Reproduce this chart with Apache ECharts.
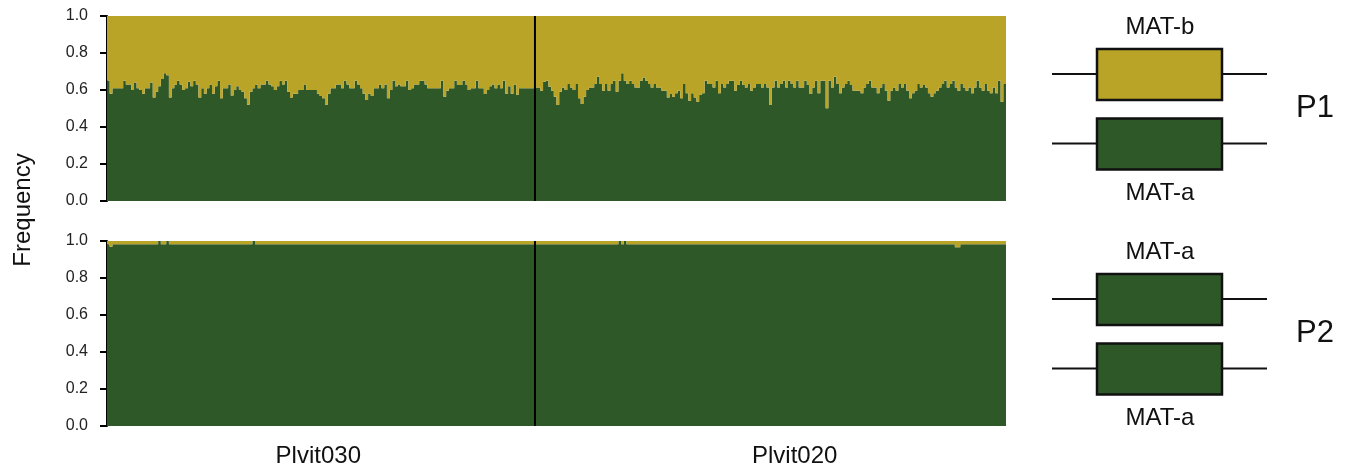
<!DOCTYPE html>
<html>
<head>
<meta charset="utf-8">
<script src="https://cdn.jsdelivr.net/npm/echarts@6/dist/echarts.min.js"></script>
<style>
  html, body { margin: 0; padding: 0; background: #fff; }
  #main { width: 1352px; height: 468px; }
</style>
</head>
<body>
<div id="main"></div>
<script>
// population names
let popNames = ['Plvit030', 'Plvit020'];

// P1: frequency of MAT-a (green) per individual
let p1Plvit030 = [
  0.65, 0.58, 0.61, 0.61, 0.61, 0.61, 0.65, 0.63, 0.63, 0.60, 0.64, 0.61, 0.60, 0.58, 0.61, 0.61, 0.64, 0.56, 0.59, 0.62,
  0.66, 0.69, 0.68, 0.56, 0.61, 0.63, 0.65, 0.63, 0.60, 0.61, 0.645, 0.62, 0.65, 0.63, 0.56, 0.61, 0.58, 0.61, 0.63, 0.58,
  0.62, 0.65, 0.555, 0.61, 0.61, 0.63, 0.57, 0.60, 0.62, 0.60, 0.59, 0.555, 0.52, 0.59, 0.61, 0.63, 0.61, 0.63, 0.63, 0.65,
  0.63, 0.62, 0.60, 0.62, 0.65, 0.63, 0.65, 0.59, 0.56, 0.58, 0.58, 0.60, 0.60, 0.63, 0.60, 0.60, 0.60, 0.60,
  0.58, 0.568, 0.555, 0.52, 0.58, 0.61, 0.61, 0.63, 0.63, 0.61, 0.65, 0.63, 0.61, 0.61, 0.65, 0.63, 0.61, 0.58, 0.546, 0.58,
  0.568, 0.61, 0.61, 0.63, 0.61, 0.63, 0.555, 0.60, 0.65, 0.62, 0.63, 0.62, 0.62, 0.65, 0.60, 0.61, 0.63, 0.63, 0.65, 0.65,
  0.63, 0.61, 0.61, 0.61, 0.61, 0.61, 0.65, 0.564, 0.596, 0.61, 0.61, 0.65, 0.627, 0.627, 0.65, 0.627, 0.60, 0.61, 0.61, 0.65,
  0.61, 0.61, 0.578, 0.60, 0.62, 0.63, 0.61, 0.63, 0.61, 0.65, 0.58, 0.62, 0.58, 0.63, 0.575, 0.61, 0.61, 0.61, 0.61, 0.61, 0.61
];
let p1Plvit020 = [
  0.614, 0.614, 0.596, 0.645, 0.65, 0.618, 0.596, 0.564, 0.519, 0.591, 0.614, 0.60, 0.632, 0.614, 0.60, 0.632, 0.555, 0.524, 0.564, 0.60,
  0.614, 0.614, 0.632, 0.672, 0.632, 0.596, 0.632, 0.596, 0.632, 0.65, 0.591, 0.65, 0.69, 0.65, 0.632, 0.65, 0.632, 0.614, 0.614, 0.65,
  0.668, 0.65, 0.632, 0.614, 0.632, 0.614, 0.614, 0.596, 0.596, 0.56, 0.578, 0.564, 0.582, 0.596, 0.555, 0.632, 0.582, 0.542, 0.582, 0.56,
  0.537, 0.573, 0.582, 0.65, 0.632, 0.632, 0.614, 0.65, 0.582, 0.632, 0.614, 0.632, 0.65, 0.65, 0.596, 0.627, 0.65, 0.627, 0.614, 0.632,
  0.596, 0.614, 0.632, 0.632, 0.614, 0.632, 0.614,
  0.519, 0.614, 0.65, 0.614, 0.632, 0.65, 0.614, 0.65, 0.632, 0.614, 0.65, 0.614, 0.614, 0.65, 0.627, 0.578, 0.614, 0.65, 0.582, 0.65,
  0.65, 0.501, 0.65, 0.614, 0.672, 0.632, 0.582, 0.614, 0.632, 0.65, 0.627, 0.596, 0.596, 0.596, 0.582, 0.614, 0.632, 0.65, 0.614, 0.614,
  0.582, 0.614, 0.632, 0.596, 0.542, 0.596, 0.614, 0.596, 0.632, 0.614, 0.632, 0.596, 0.555, 0.582, 0.596, 0.632, 0.614, 0.627, 0.614, 0.582,
  0.564, 0.582, 0.596, 0.614, 0.632, 0.65, 0.614, 0.632, 0.65, 0.614, 0.596, 0.632, 0.614, 0.596, 0.614, 0.582, 0.614, 0.65, 0.614, 0.596,
  0.632, 0.596, 0.582, 0.614, 0.582, 0.65, 0.537, 0.632
];

// P2: frequency of MAT-a (green), as runs of [value, number of individuals]
let p2Plvit030Runs = [[0.982, 1], [0.969, 1], [0.982, 17], [1.0, 1], [0.982, 2], [1.0, 1], [0.982, 31], [1.0, 1], [0.982, 104]];
let p2Plvit020Runs = [[0.982, 31], [1.0, 1], [0.982, 1], [1.0, 1], [0.982, 122], [0.966, 2], [0.982, 17]];

// y tick labels, and where the population names sit on the x axis
let yTicks = ['0.0', '0.2', '0.4', '0.6', '0.8', '1.0'];
let popLabelIdx = [78, 255];

const GREEN = '#2f5829';
const YELLOW = '#b9a428';
const FONT = '"Liberation Sans", Arial, Helvetica, sans-serif';

function expandRuns(runs) {
  let out = [];
  runs.forEach(r => { for (let i = 0; i < r[1]; i++) out.push(r[0]); });
  return out;
}

let p1Green = p1Plvit030.concat(p1Plvit020);
let p2Green = expandRuns(p2Plvit030Runs).concat(expandRuns(p2Plvit020Runs));
let p1Yellow = p1Green.map(v => +(1 - v).toFixed(3));
let p2Yellow = p2Green.map(v => +(1 - v).toFixed(3));
let total = p1Green.length;
let split = p1Plvit030.length;

let categories = [];
p1Plvit030.forEach((v, i) => categories.push(popNames[0] + '_' + (i + 1)));
p1Plvit020.forEach((v, i) => categories.push(popNames[1] + '_' + (i + 1)));

let gridTop = [16, 241];
let plotH = 185;

function catAxis(gi, showLabel) {
  return {
    type: 'category', gridIndex: gi, data: categories, boundaryGap: true,
    axisLine: { show: false }, axisTick: { show: false },
    axisLabel: {
      show: showLabel, interval: (idx) => popLabelIdx.indexOf(idx) >= 0,
      formatter: (v) => v.split('_')[0],
      margin: 18, fontSize: 24, color: '#111', fontFamily: FONT, hideOverlap: false
    }
  };
}
function sepAxis(gi) {
  return { type: 'value', gridIndex: gi, min: 0, max: total, show: false };
}
function freqAxis(gi) {
  return {
    type: 'value', gridIndex: gi, min: 0, max: 1, interval: 0.2, offset: 7,
    axisLine: { show: true, lineStyle: { color: '#000', width: 2 } },
    axisTick: { show: true, length: 7, lineStyle: { color: '#000', width: 2 } },
    axisLabel: {
      margin: 12, fontSize: 16, color: '#222', fontFamily: FONT,
      formatter: (v) => yTicks[Math.round(v / 0.2)]
    },
    splitLine: { show: false }
  };
}

// large mode fills all bars of a series as one path, so no seams between them
function barSeries(name, stack, xi, yi, data, c) {
  return {
    name: name, type: 'bar', stack: stack, xAxisIndex: xi, yAxisIndex: yi, data: data,
    barCategoryGap: '0%', large: true, largeThreshold: 1, itemStyle: { color: c }
  };
}

// diagram on the right: two boxes with flanking lines
function diagram(dy, topColor, botColor, topLabel, botLabel, pLabel) {
  let els = [];
  [[74, topColor], [143.5, botColor]].forEach(function (b) {
    let cy = b[0] + dy;
    els.push({ type: 'line', shape: { x1: 1052, y1: cy, x2: 1267, y2: cy }, style: { stroke: '#111', lineWidth: 2 } });
    els.push({ type: 'rect', shape: { x: 1097, y: cy - 25, width: 125, height: 51 }, style: { fill: b[1], stroke: '#111', lineWidth: 2.5 } });
  });
  els.push({ type: 'text', x: 1160, y: 27 + dy, style: { text: topLabel, fontSize: 24, fontFamily: FONT, fill: '#111', align: 'center', verticalAlign: 'middle' } });
  els.push({ type: 'text', x: 1160, y: 193 + dy, style: { text: botLabel, fontSize: 24, fontFamily: FONT, fill: '#111', align: 'center', verticalAlign: 'middle' } });
  els.push({ type: 'text', x: 1296, y: 108 + dy, style: { text: pLabel, fontSize: 31, fontFamily: FONT, fill: '#111', align: 'left', verticalAlign: 'middle' } });
  return els;
}

let myChart = echarts.init(document.getElementById('main'));
let option = {
  animation: false,
  backgroundColor: '#fff',
  grid: [
    { left: 107, top: gridTop[0], width: 899, height: plotH },
    { left: 107, top: gridTop[1], width: 899, height: plotH }
  ],
  xAxis: [catAxis(0, false), sepAxis(0), catAxis(1, true), sepAxis(1)],
  yAxis: [freqAxis(0), freqAxis(1)],
  series: [
    barSeries('MAT-a', 'p1', 0, 0, p1Green, GREEN),
    barSeries('MAT-b', 'p1', 0, 0, p1Yellow, YELLOW),
    barSeries('MAT-a', 'p2', 2, 1, p2Green, GREEN),
    barSeries('MAT-b', 'p2', 2, 1, p2Yellow, YELLOW),
    // population separators
    { type: 'line', xAxisIndex: 1, yAxisIndex: 0, data: [[split, 0], [split, 1]], symbol: 'none', z: 5,
      lineStyle: { color: '#000', width: 2 } },
    { type: 'line', xAxisIndex: 3, yAxisIndex: 1, data: [[split, 0], [split, 1]], symbol: 'none', z: 5,
      lineStyle: { color: '#000', width: 2 } }
  ],
  graphic: [
    { type: 'text', x: 23, y: 210, rotation: Math.PI / 2,
      style: { text: 'Frequency', fontSize: 24, fontFamily: FONT, fill: '#111', align: 'center', verticalAlign: 'middle' } }
  ].concat(diagram(0, YELLOW, GREEN, 'MAT-b', 'MAT-a', 'P1'))
   .concat(diagram(225, GREEN, GREEN, 'MAT-a', 'MAT-a', 'P2'))
};
myChart.setOption(option);
</script>
</body>
</html>
